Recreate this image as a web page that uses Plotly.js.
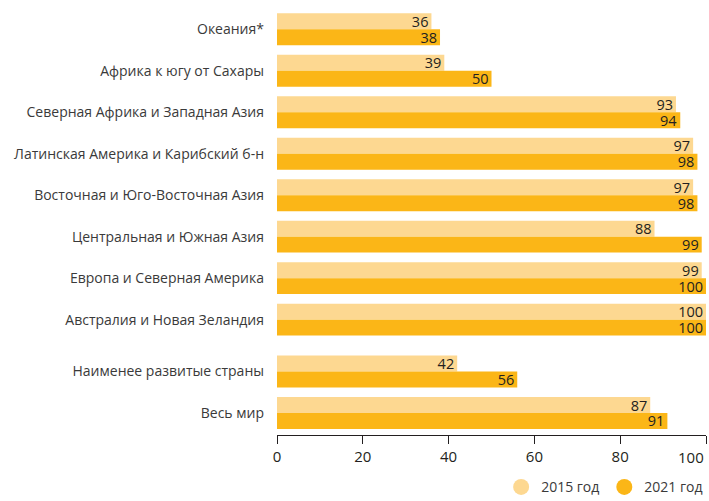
<!DOCTYPE html>
<html>
<head>
<meta charset="utf-8">
<script src="https://cdn.plot.ly/plotly-3.0.1.min.js"></script>
<style>
  html, body { margin: 0; padding: 0; background: #fff; }
  #chart { width: 709px; height: 501px; }
</style>
</head>
<body>
<div id="chart"></div>
<script>
// Regions, top to bottom; the last two are summary groups set slightly apart
const regions = [
  "Океания*",
  "Африка к югу от Сахары",
  "Северная Африка и Западная Азия",
  "Латинская Америка и Карибский б-н",
  "Восточная и Юго-Восточная Азия",
  "Центральная и Южная Азия",
  "Европа и Северная Америка",
  "Австралия и Новая Зеландия",
  "Наименее развитые страны",
  "Весь мир"
];
const values2015 = [36, 39, 93, 97, 97, 88, 99, 100, 42, 87];
const values2021 = [38, 50, 94, 98, 98, 99, 100, 100, 56, 91];
const seriesNames = ["2015 год", "2021 год"];
const xTicks = [0, 20, 40, 60, 80, 100];

const colLight = "#FDD891";
const colDark = "#FBB617";
const inkDark = "#231F20";
const fontFam = "Open Sans, Noto Sans, sans-serif";

// the summary groups sit a quarter step further down
const firstSummary = 8;
const yPos = regions.map((_, i) => i + (i >= firstSummary ? 0.25 : 0));

function barTrace(vals, color, name) {
  return {
    type: "bar",
    orientation: "h",
    name: name,
    x: vals,
    y: yPos,
    marker: { color: color, line: { width: 0 } },
    text: vals.map(String),
    textposition: "inside",
    insidetextanchor: "end",
    textangle: 0,
    constraintext: "none",
    textfont: { family: fontFam, size: 14.5, color: inkDark },
    cliponaxis: false,
    showlegend: false,
    hoverinfo: "x+y"
  };
}

// legend entries drawn as round swatches
function legendTrace(color, name) {
  return {
    type: "scatter",
    mode: "markers",
    name: name,
    x: [null],
    y: [null],
    marker: { color: color, size: 17, symbol: "circle" },
    showlegend: true,
    hoverinfo: "skip"
  };
}

const data = [
  barTrace(values2015, colLight, seriesNames[0]),
  barTrace(values2021, colDark, seriesNames[1]),
  legendTrace(colLight, seriesNames[0]),
  legendTrace(colDark, seriesNames[1])
];

// the last tick label is set flush right against the plot edge
const lastTick = xTicks[xTicks.length - 1];

const layout = {
  width: 709,
  height: 501,
  margin: { l: 277, r: 3, t: 8, b: 66, autoexpand: false },
  paper_bgcolor: "#fff",
  plot_bgcolor: "#fff",
  barmode: "group",
  bargap: 0.23,
  bargroupgap: 0,
  font: { family: fontFam, color: "#333" },
  xaxis: {
    range: [0, 100],
    tickvals: xTicks,
    ticktext: xTicks.map(v => (v === lastTick ? "" : String(v))),
    showgrid: false,
    zeroline: false,
    showline: true,
    linecolor: inkDark,
    linewidth: 1,
    ticks: "outside",
    ticklen: 8,
    tickcolor: inkDark,
    tickfont: { size: 15, color: inkDark },
    automargin: false,
    fixedrange: true
  },
  yaxis: {
    range: [9.78, -0.51],
    tickvals: yPos,
    ticktext: regions,
    showgrid: false,
    zeroline: false,
    showline: false,
    ticks: "",
    ticklabelstandoff: 12,
    tickfont: { size: 14, color: "#3a3a3a" },
    automargin: false,
    fixedrange: true
  },
  annotations: [{
    x: lastTick,
    xref: "x",
    y: 0,
    yref: "paper",
    yshift: -10,
    xanchor: "right",
    yanchor: "top",
    text: String(lastTick),
    showarrow: false,
    font: { family: fontFam, size: 15, color: inkDark }
  }],
  legend: {
    orientation: "h",
    x: 1.005,
    xanchor: "right",
    y: -0.16,
    yanchor: "bottom",
    font: { size: 14, color: "#3a3a3a" },
    itemwidth: 30,
    traceorder: "normal"
  },
  showlegend: true
};

Plotly.newPlot("chart", data, layout, { displayModeBar: false, staticPlot: true });
</script>
</body>
</html>
